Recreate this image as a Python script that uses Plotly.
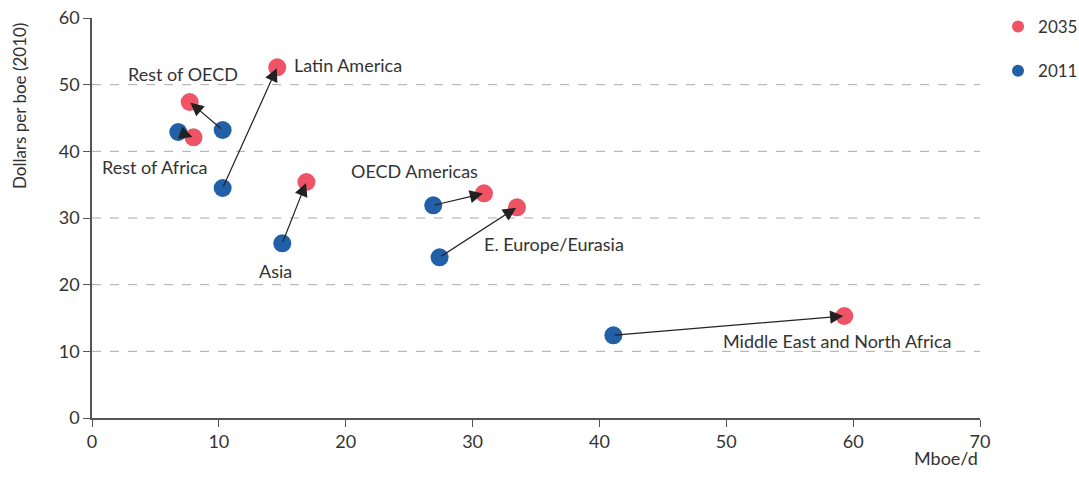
import plotly.graph_objects as go

regions = ["Rest of Africa", "Rest of OECD", "Latin America", "Asia",
           "OECD Americas", "E. Europe/Eurasia", "Middle East and North Africa"]
x_2011 = [6.8, 10.3, 10.3, 15.0, 26.9, 27.4, 41.1]
y_2011 = [42.9, 43.2, 34.5, 26.2, 31.9, 24.1, 12.4]
x_2035 = [8.0, 7.7, 14.6, 16.9, 30.9, 33.5, 59.3]
y_2035 = [42.1, 47.4, 52.6, 35.4, 33.7, 31.6, 15.3]

# label anchor positions (data coords)
label_x = [5.0, 7.2, 20.2, 14.5, 25.4, 36.4, 58.7]
label_y = [37.7, 51.6, 52.9, 22.1, 37.0, 26.1, 11.6]

grid_vals = [10, 20, 30, 40, 50]
x_ticks = [0, 10, 20, 30, 40, 50, 60, 70]
y_ticks = [0, 10, 20, 30, 40, 50, 60]

RED = "#EF5366"
BLUE = "#215FA6"
FONT = "Lato"
TXT = "#333333"

fig = go.Figure()
fig.add_trace(go.Scatter(x=x_2035, y=y_2035, mode="markers", name="2035",
                         legendgroup="a",
                         marker=dict(color=RED, size=18, line=dict(width=0)),
                         hoverinfo="skip"))
fig.add_trace(go.Scatter(x=x_2011, y=y_2011, mode="markers", name="2011",
                         legendgroup="b",
                         marker=dict(color=BLUE, size=18, line=dict(width=0)),
                         hoverinfo="skip"))

for v in grid_vals:
    fig.add_shape(type="line", xref="paper", x0=0, x1=1, yref="y", y0=v, y1=v,
                  line=dict(color="#AAAAAA", width=1, dash="dash"), layer="below")

for x0, y0, x1, y1 in zip(x_2011, y_2011, x_2035, y_2035):
    fig.add_annotation(x=x1, y=y1, ax=x0, ay=y0, xref="x", yref="y",
                       axref="x", ayref="y", text="", showarrow=True,
                       arrowhead=2, arrowsize=2.2, arrowwidth=1.2,
                       arrowcolor="#222222", standoff=1)

for name, lx, ly in zip(regions, label_x, label_y):
    fig.add_annotation(x=lx, y=ly, xref="x", yref="y", text=name, showarrow=False,
                       xanchor="center", yanchor="middle",
                       font=dict(family=FONT, size=18, color=TXT))

fig.add_annotation(xref="paper", yref="paper", x=0.962, y=-0.1, text="Mboe/d",
                   xanchor="center", yanchor="middle",
                   showarrow=False, font=dict(family=FONT, size=18, color=TXT))
fig.add_annotation(xref="paper", yref="paper", x=-0.081, y=0.78, text="Dollars per boe (2010)",
                   xanchor="center", yanchor="middle",
                   textangle=-90, showarrow=False,
                   font=dict(family=FONT, size=17, color=TXT))

fig.update_layout(
    width=1079, height=491,
    margin=dict(l=92, r=99, t=18, b=73, autoexpand=False),
    paper_bgcolor="white", plot_bgcolor="white",
    font=dict(family=FONT, size=18, color=TXT),
    showlegend=True,
    legend=dict(x=1.0203, y=1.0225, xanchor="left", yanchor="top",
                tracegroupgap=19, font=dict(size=17, family=FONT, color=TXT),
                itemsizing="constant", bgcolor="rgba(0,0,0,0)"),
    xaxis=dict(range=[0, 70], tickvals=x_ticks, showgrid=False, zeroline=False,
               showline=True, linecolor="#555555", linewidth=1.5, automargin=False,
               ticks="outside", ticklen=7, tickcolor="#555555",
               ticklabeloverflow="allow",
               tickfont=dict(family=FONT, size=18, color=TXT)),
    yaxis=dict(range=[0, 60], tickvals=y_ticks, showgrid=False, zeroline=False,
               showline=True, linecolor="#555555", linewidth=1.5, automargin=False,
               ticks="outside", ticklen=7, tickcolor="#555555",
               ticklabeloverflow="allow",
               tickfont=dict(family=FONT, size=18, color=TXT)),
)

fig.write_html("out.html", config={"displayModeBar": False},
               post_script="document.body.style.margin='0';document.body.style.overflow='hidden';")
